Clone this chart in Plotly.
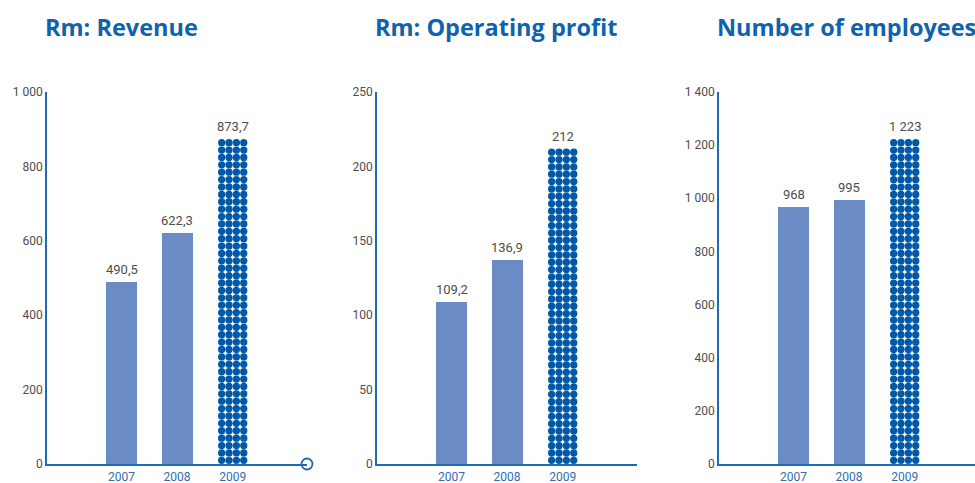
import plotly.graph_objects as go

# ---------------- data ----------------
years = ["2007", "2008", "2009"]

titles = ["Rm: Revenue", "Rm: Operating profit", "Number of employees"]

revenue = [490.5, 622.3, 873.7]
revenue_labels = ["490,5", "622,3", "873,7"]

op_profit = [109.2, 136.9, 212]
op_profit_labels = ["109,2", "136,9", "212"]

employees = [968, 995, 1223]
employee_labels = ["968", "995", "1 223"]

revenue_ticks = [0, 200, 400, 600, 800, 1000]
revenue_ticktext = ["0", "200", "400", "600", "800", "1 000"]
profit_ticks = [0, 50, 100, 150, 200, 250]
profit_ticktext = ["0", "50", "100", "150", "200", "250"]
emp_ticks = [0, 200, 400, 600, 800, 1000, 1200, 1400]
emp_ticktext = ["0", "200", "400", "600", "800", "1 000", "1 200", "1 400"]

# ---------------- styling ----------------
W, H = 975, 483
BAR_COLOR = "#6b8bc4"
DOT_COLOR = "#0058a8"
AXIS_COLOR = "#1f6ab5"
TITLE_COLOR = "#0f62ad"
TICK_COLOR = "#4d4d4d"
XTICK_COLOR = "#2f6db5"
FONT = "Roboto"
TITLE_FONT = "Open Sans"

Y_BOTTOM_PX, Y_TOP_PX = 464, 92
PLOT_H_PX = Y_BOTTOM_PX - Y_TOP_PX
SPACING_PX = 55.6          # distance between bar centres
BAR_W = 31 / SPACING_PX
DOT_STEP_PX = 7.37
X_LEFT = -1.34
X_RIGHT = 3.336

panels = [
    dict(vals=revenue, labels=revenue_labels, ymax=1000, ticks=revenue_ticks, ticktext=revenue_ticktext, axis_px=47),
    dict(vals=op_profit, labels=op_profit_labels, ymax=250, ticks=profit_ticks, ticktext=profit_ticktext, axis_px=377),
    dict(vals=employees, labels=employee_labels, ymax=1400, ticks=emp_ticks, ticktext=emp_ticktext, axis_px=719),
]

fig = go.Figure()
annotations = []
xpos = [0, 1, 2]

for i, p in enumerate(panels):
    n = "" if i == 0 else str(i + 1)
    xa, ya = "x" + n, "y" + n
    left_px = p["axis_px"]
    right_px = left_px + (X_RIGHT - X_LEFT) * SPACING_PX
    dom_right = min(right_px / W, 1.0)
    x_range_right = X_LEFT + (dom_right * W - left_px) / SPACING_PX

    # solid bars for first two years, invisible placeholder for the dotted one
    colors = [BAR_COLOR, BAR_COLOR, "rgba(0,0,0,0)"]
    fig.add_trace(go.Bar(x=xpos, y=p["vals"], width=BAR_W, marker=dict(color=colors, line=dict(width=0)),
                         xaxis=xa, yaxis=ya, showlegend=False, hoverinfo="skip"))

    # dotted bar (last year): 4 columns of dots filling up to value
    v = p["vals"][2]
    unit_per_px = p["ymax"] / PLOT_H_PX
    nrows = round(v / (DOT_STEP_PX * unit_per_px))
    step = v / nrows
    col_off = [(-1.5 + c) * DOT_STEP_PX / SPACING_PX for c in range(4)]
    dx, dy = [], []
    for r in range(nrows):
        for c in col_off:
            dx.append(xpos[2] + c)
            dy.append((r + 0.5) * step)
    fig.add_trace(go.Scatter(x=dx, y=dy, mode="markers",
                             marker=dict(size=7.3, color=DOT_COLOR, line=dict(width=0)),
                             xaxis=xa, yaxis=ya, showlegend=False, hoverinfo="skip", cliponaxis=False))

    # end-of-axis circle
    fig.add_trace(go.Scatter(x=[X_RIGHT], y=[0], mode="markers",
                             marker=dict(size=11, color="white", line=dict(width=1.8, color=AXIS_COLOR)),
                             xaxis=xa, yaxis=ya, showlegend=False, hoverinfo="skip", cliponaxis=False))

    # value labels
    for xv, yv, lab in zip(xpos, p["vals"], p["labels"]):
        annotations.append(dict(x=xv, y=yv, xref=xa, yref=ya, text=lab, showarrow=False,
                                yanchor="bottom", yshift=3,
                                font=dict(family=FONT, size=13, color=TICK_COLOR)))

    # title
    annotations.append(dict(x=(left_px - 4) / W, y=(H - 27) / H, xref="paper", yref="paper",
                            text="<b>" + titles[i] + "</b>", showarrow=False,
                            xanchor="left", yanchor="middle",
                            font=dict(family=TITLE_FONT, size=23.5, color=TITLE_COLOR)))

    fig.update_layout(**{
        "xaxis" + n: dict(domain=[left_px / W, dom_right], range=[X_LEFT, x_range_right],
                          tickvals=xpos, ticktext=years, showgrid=False, zeroline=False,
                          showline=True, linecolor=AXIS_COLOR, linewidth=1.6, ticks="",
                          ticklabelstandoff=1, automargin=False,
                          tickfont=dict(family=FONT, size=12, color=XTICK_COLOR),
                          anchor=ya, fixedrange=True),
        "yaxis" + n: dict(domain=[(H - Y_BOTTOM_PX) / H, (H - Y_TOP_PX) / H], range=[0, p["ymax"]],
                          tickvals=p["ticks"], ticktext=p["ticktext"], showgrid=False, zeroline=False,
                          showline=True, linecolor=AXIS_COLOR, linewidth=1.6, ticks="",
                          automargin=False,
                          tickfont=dict(family=FONT, size=12, color=TICK_COLOR),
                          anchor=xa, fixedrange=True),
    })

fig.update_layout(width=W, height=H, margin=dict(l=0, r=0, t=0, b=0, autoexpand=False),
                  plot_bgcolor="white", paper_bgcolor="white",
                  annotations=annotations, bargap=0, font=dict(family=FONT))

fig.write_html("out.html", config={"displayModeBar": False},
               post_script="document.body.style.margin='0';document.body.style.overflow='hidden';")
